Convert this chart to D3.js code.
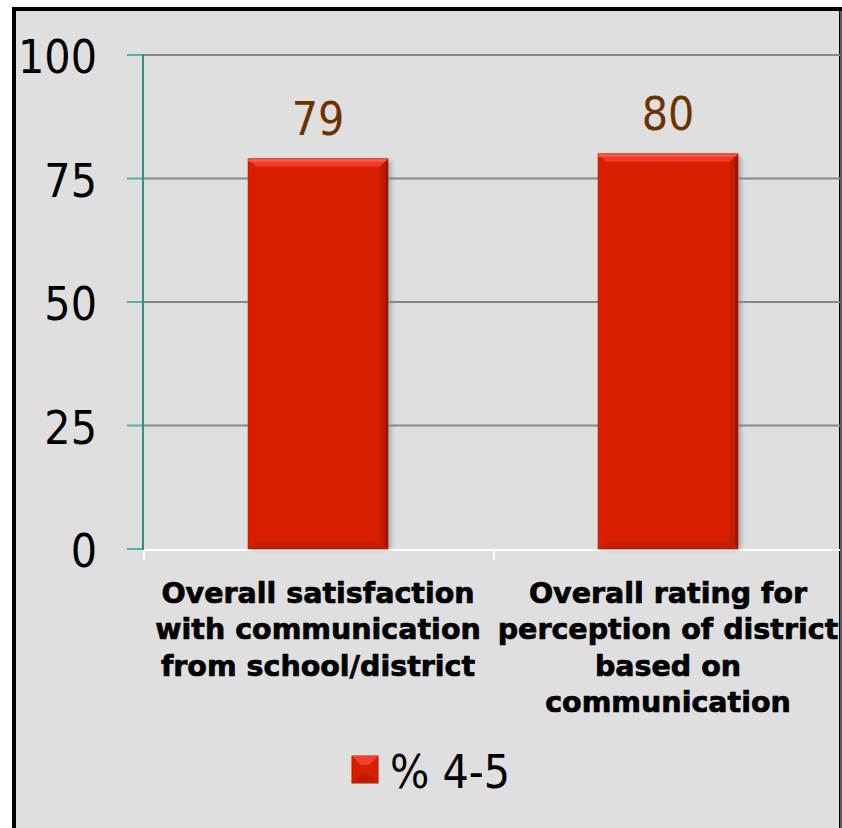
<!DOCTYPE html>
<html>
<head>
<meta charset="utf-8">
<script src="https://cdn.jsdelivr.net/npm/d3@7"></script>
<style>
html,body{margin:0;padding:0;background:#fff;overflow:hidden;}
svg{display:block;}
</style>
</head>
<body>
<svg id="chart" width="842" height="828"></svg>
<script>
const categories = [
  ["Overall satisfaction", "with communication", "from school/district"],
  ["Overall rating for", "perception of district", "based on", "communication"]
];
const categoryKeys = ["cat1", "cat2"];
const values = [79, 80];
const yTicks = [0, 25, 50, 75, 100];
const seriesName = "% 4-5";

const svg = d3.select("#chart");

// frame
svg.append("rect").attr("x", 14).attr("y", 9).attr("width", 827).attr("height", 840)
  .attr("fill", "#dfdfdf").attr("stroke", "#000").attr("stroke-width", 4);
svg.append("rect").attr("x", 840).attr("y", 11).attr("width", 2).attr("height", 830).attr("fill", "#5a5a5a");

const plot = {left: 143, right: 843, top: 55, bottom: 549};
const y = d3.scaleLinear().domain([0, 100]).range([plot.bottom, plot.top]);
const x = d3.scaleBand().domain(categoryKeys).range([plot.left, plot.right])
  .paddingInner(0.6).paddingOuter(0.3);
const xStep = d3.scaleBand().domain(categoryKeys).range([plot.left, plot.right]).padding(0);

// gridlines
svg.append("g").selectAll("line").data(yTicks.filter(d => d > 0)).join("line")
  .attr("x1", plot.left).attr("x2", 840)
  .attr("y1", d => y(d)).attr("y2", d => y(d))
  .attr("stroke", "#878787").attr("stroke-width", 2);

// x axis (white)
svg.append("line").attr("x1", plot.left).attr("x2", 840)
  .attr("y1", y(0) + 1).attr("y2", y(0) + 1).attr("stroke", "#fff").attr("stroke-width", 2);
const xTickPos = [plot.left, xStep(categoryKeys[1])];
svg.append("g").selectAll("line").data(xTickPos).join("line")
  .attr("x1", d => d + 1).attr("x2", d => d + 1)
  .attr("y1", y(0)).attr("y2", y(0) + 11)
  .attr("stroke", "#fff").attr("stroke-width", 2);

// y axis
svg.append("g").selectAll("line").data(yTicks).join("line")
  .attr("x1", plot.left - 16).attr("x2", plot.left)
  .attr("y1", d => y(d)).attr("y2", d => y(d))
  .attr("stroke", "#4db3ac").attr("stroke-width", 2);
svg.append("line").attr("x1", plot.left).attr("x2", plot.left)
  .attr("y1", y(100) - 1).attr("y2", y(0) + 1)
  .attr("stroke", "#2a918a").attr("stroke-width", 2);

svg.append("g").selectAll("text").data(yTicks).join("text")
  .attr("x", 97).attr("y", d => y(d) + 18)
  .attr("text-anchor", "end")
  .attr("font-family", "'DejaVu Sans Condensed','DejaVu Sans',sans-serif")
  .attr("font-size", 46).attr("fill", "#000")
  .text(d => d);

// bars
const defs = svg.append("defs");
const blur = defs.append("filter").attr("id", "shadow").attr("x", "-20%").attr("y", "-20%")
  .attr("width", "140%").attr("height", "140%");
blur.append("feGaussianBlur").attr("stdDeviation", 2);

const bevel = 8;
const bars = svg.append("g").selectAll("g").data(values).join("g");
bars.each(function(v, i) {
  const g = d3.select(this);
  const x0 = x(categoryKeys[i]), w = x.bandwidth();
  const y0 = y(v), y1 = y(0);
  // shadow
  g.append("rect").attr("x", x0 + 3).attr("y", y0 + 2).attr("width", w).attr("height", y1 - y0 - 2)
    .attr("fill", "#8a8a8a").attr("opacity", 0.7).attr("filter", "url(#shadow)");
  // base
  g.append("rect").attr("x", x0).attr("y", y0).attr("width", w).attr("height", y1 - y0)
    .attr("fill", "#d81f00");
  // top bevel
  g.append("polygon").attr("points", [[x0, y0], [x0 + w, y0], [x0 + w - bevel, y0 + bevel], [x0 + bevel, y0 + bevel]].join(" "))
    .attr("fill", "#ee3a26");
  g.append("rect").attr("x", x0).attr("y", y0).attr("width", w).attr("height", 3).attr("fill", "#ff5a48");
  // right bevel
  g.append("polygon").attr("points", [[x0 + w, y0], [x0 + w, y1], [x0 + w - bevel, y1 - bevel], [x0 + w - bevel, y0 + bevel]].join(" "))
    .attr("fill", "#c41c00");
  g.append("rect").attr("x", x0 + w - 3).attr("y", y0 + 3).attr("width", 3).attr("height", y1 - y0 - 3).attr("fill", "#9a1600");
  // bottom bevel
  g.append("polygon").attr("points", [[x0, y1], [x0 + bevel, y1 - bevel], [x0 + w - bevel, y1 - bevel], [x0 + w, y1]].join(" "))
    .attr("fill", "#c81d00");
  g.append("rect").attr("x", x0).attr("y", y0).attr("width", w).attr("height", y1 - y0)
    .attr("fill", "none").attr("stroke", "#a51500").attr("stroke-width", 1).attr("opacity", 0.5);
  // value label
  g.append("text").attr("x", x0 + w / 2).attr("y", y0 - 24)
    .attr("text-anchor", "middle")
    .attr("font-family", "'DejaVu Sans Condensed','DejaVu Sans',sans-serif")
    .attr("font-size", 46).attr("fill", "#6b3300")
    .text(v);
});

// category labels
categories.forEach((lines, i) => {
  const cx = x(categoryKeys[i]) + x.bandwidth() / 2;
  const t = svg.append("text").attr("text-anchor", "middle")
    .attr("font-family", "'DejaVu Sans','Verdana',sans-serif")
    .attr("font-weight", "bold").attr("font-size", 28.5).attr("fill", "#000")
    .attr("stroke", "#000").attr("stroke-width", 0.7);
  lines.forEach((ln, j) => {
    t.append("tspan").attr("x", cx).attr("y", 603 + j * 36.3).text(ln);
  });
});

// legend
const lg = svg.append("g");
lg.append("rect").attr("x", 352).attr("y", 756).attr("width", 26).attr("height", 27)
  .attr("fill", "#d81f00").attr("stroke", "#b01800").attr("stroke-width", 1);
lg.append("polygon").attr("points", "352,756 378,756 369,765 361,765").attr("fill", "#f2402e");
lg.append("polygon").attr("points", "352,783 378,783 369,774 361,774").attr("fill", "#c01a00");
lg.append("text").attr("x", 390).attr("y", 788)
  .attr("font-family", "'DejaVu Sans Condensed','DejaVu Sans',sans-serif")
  .attr("font-size", 46).attr("fill", "#000").text(seriesName);
</script>
</body>
</html>
